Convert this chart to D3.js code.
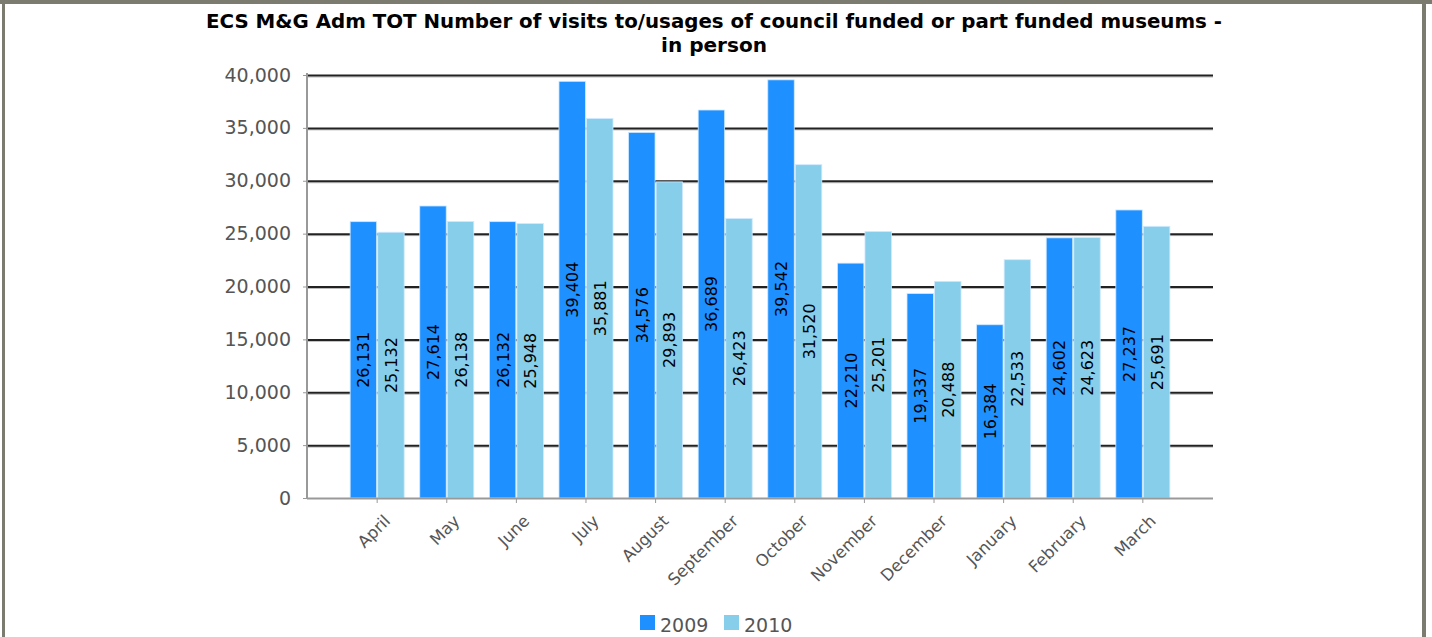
<!DOCTYPE html>
<html>
<head>
<meta charset="utf-8">
<script src="https://cdn.jsdelivr.net/npm/d3@7"></script>
<style>
  html, body { margin: 0; padding: 0; background: #fff; }
  svg { display: block; }
</style>
</head>
<body>
<script>
const months = ["April","May","June","July","August","September","October","November","December","January","February","March"];
const series = ["2009", "2010"];
const values2009 = [26131, 27614, 26132, 39404, 34576, 36689, 39542, 22210, 19337, 16384, 24602, 27237];
const values2010 = [25132, 26138, 25948, 35881, 29893, 26423, 31520, 25201, 20488, 22533, 24623, 25691];
const yTicks = [0, 5000, 10000, 15000, 20000, 25000, 30000, 35000, 40000];
const colors = ["#1E90FF", "#87CEEB"];
const titleLines = ["ECS M&G Adm TOT Number of visits to/usages of council funded or part funded museums -", "in person"];

(function () {
const W = 1432, H = 637;
const FONT = "Tahoma, 'DejaVu Sans', sans-serif";
const svg = d3.select("body").append("svg").attr("width", W).attr("height", H);

// frame
svg.append("rect").attr("x", 0).attr("y", 0).attr("width", W).attr("height", H).attr("fill", "#fff");
svg.append("rect").attr("x", 0).attr("y", 0).attr("width", W).attr("height", 4).attr("fill", "#7b7b6f");
svg.append("rect").attr("x", 2).attr("y", 0).attr("width", 3).attr("height", H).attr("fill", "#7b7b6f");
svg.append("rect").attr("x", 1422).attr("y", 0).attr("width", 4).attr("height", H).attr("fill", "#7b7b6f");

const pLeft = 307, pRight = 1213, pTop = 75, pBottom = 498;
const x = d3.scaleBand().domain(months).range([pLeft, pRight]).paddingInner(0.224).paddingOuter(0.62);
const y = d3.scaleLinear().domain([0, 40000]).range([pBottom, pTop]);
const xs = d3.scaleBand().domain(series).range([0, x.bandwidth()]).paddingInner(0.04);

// title
const title = svg.append("g").attr("font-family", FONT).attr("font-weight", "bold").attr("font-size", 20).attr("fill", "#000").attr("text-anchor", "middle");
title.append("text").attr("x", 714).attr("y", 28).attr("textLength", 1016).attr("lengthAdjust", "spacingAndGlyphs").text(titleLines[0]);
title.append("text").attr("x", 714).attr("y", 52).attr("textLength", 106).attr("lengthAdjust", "spacingAndGlyphs").text(titleLines[1]);

// gridlines
const grid = svg.append("g");
grid.selectAll("line.sh").data(yTicks.filter(d => d > 0)).join("line").attr("class", "sh")
  .attr("x1", pLeft).attr("x2", pRight)
  .attr("y1", d => y(d) + 2).attr("y2", d => y(d) + 2)
  .attr("stroke", "#bbb").attr("stroke-width", 1);
grid.selectAll("line.gl").data(yTicks.filter(d => d > 0)).join("line").attr("class", "gl")
  .attr("x1", pLeft).attr("x2", pRight)
  .attr("y1", d => y(d) + 0.5).attr("y2", d => y(d) + 0.5)
  .attr("stroke", "#222").attr("stroke-width", 2);

// y axis
const yAxis = svg.append("g").attr("transform", `translate(${pLeft},0)`)
  .call(d3.axisLeft(y).tickValues(yTicks).tickSize(4).tickPadding(12).tickFormat(d3.format(",")));
yAxis.select(".domain").attr("stroke", "#999").attr("stroke-width", 2).attr("d", `M0,${pTop-2}V${pBottom}`);
yAxis.selectAll(".tick line").attr("stroke", "#999");
yAxis.selectAll("text").attr("font-family", FONT).attr("font-size", 19).attr("fill", "#555");

// bars
const groups = svg.append("g").selectAll("g").data(months).join("g")
  .attr("transform", d => `translate(${x(d)},0)`);
const allVals = [values2009, values2010];
groups.each(function(m, i) {
  const g = d3.select(this);
  series.forEach((s, k) => {
    const v = allVals[k][i];
    g.append("rect")
      .attr("x", xs(s)).attr("y", y(v))
      .attr("width", xs.bandwidth()).attr("height", pBottom - y(v))
      .attr("fill", colors[k]).attr("stroke", "#cfe9ff").attr("stroke-width", 0.8);
    const cx = xs(s) + xs.bandwidth() / 2;
    const cy = (y(v) + pBottom) / 2;
    g.append("text")
      .attr("transform", `translate(${cx + 6},${cy}) rotate(-90)`)
      .attr("text-anchor", "middle")
      .attr("font-family", FONT).attr("font-size", 16).attr("fill", "#000")
      .text(d3.format(",")(v));
  });
});

// x axis
const xAxis = svg.append("g").attr("transform", `translate(0,${pBottom})`)
  .call(d3.axisBottom(x).tickSize(5).tickSizeOuter(0));
xAxis.select(".domain").attr("stroke", "#999").attr("stroke-width", 2).attr("d", `M${pLeft},0.5H${pRight}`);
xAxis.selectAll(".tick line").attr("stroke", "#999");
xAxis.selectAll("text")
  .attr("font-family", FONT).attr("font-size", 16.5).attr("fill", "#555")
  .attr("text-anchor", "end").attr("dy", null).attr("y", 0)
  .attr("transform", "translate(14,24) rotate(-45)");

// legend
const legend = svg.append("g").attr("font-family", FONT).attr("font-size", 19).attr("fill", "#555");
const legX = [640, 724];
series.forEach((s, k) => {
  legend.append("rect").attr("x", legX[k]).attr("y", 615).attr("width", 15).attr("height", 15).attr("fill", colors[k]);
  legend.append("text").attr("x", legX[k] + 20).attr("y", 632).text(s);
});
})();
</script>
</body>
</html>
